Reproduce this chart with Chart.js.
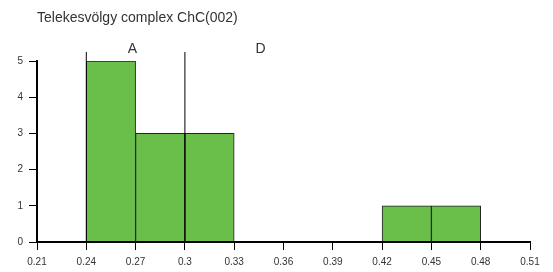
<!DOCTYPE html>
<html>
<head>
<meta charset="utf-8">
<script src="https://cdn.jsdelivr.net/npm/chart.js@4/dist/chart.umd.min.js"></script>
<style>
html,body{margin:0;padding:0;background:#fff;}
#wrap{position:relative;width:553px;height:272px;}
canvas{display:block;}
#title{position:absolute;left:37px;top:9px;font:14px 'Liberation Sans',Arial,sans-serif;color:#333;line-height:16px;white-space:nowrap;}
</style>
</head>
<body>
<div id="wrap">
<canvas id="c" width="553" height="272"></canvas>
<div id="title"></div>
</div>
<script>
const titleText = 'Telekesvölgy complex ChC(002)';
const binCenters = [0.255, 0.285, 0.315, 0.435, 0.465];
const counts = [5, 3, 3, 1, 1];
const xTicks = [0.21, 0.24, 0.27, 0.3, 0.33, 0.36, 0.39, 0.42, 0.45, 0.48, 0.51];
const yTicks = [0, 1, 2, 3, 4, 5];
const markerX = [0.24, 0.30];
const markerTop = 5.25;
const markerLabels = ['A', 'D'];
const markerLabelX = [0.268, 0.346];
const markerLabelY = 5.22;

const FONT = "'Liberation Sans', Arial, sans-serif";
document.getElementById('title').textContent = titleText;

const datasets = [{
  type: 'bar',
  data: binCenters.map((x, i) => ({x: x, y: counts[i]})),
  backgroundColor: '#6abf4b',
  borderColor: '#222',
  borderWidth: {top: 1, left: 1, right: 1, bottom: 0},
  borderSkipped: false,
  barPercentage: 1,
  categoryPercentage: 1,
  grouped: false,
  order: 2
}];
markerX.forEach(mx => {
  datasets.push({
    type: 'line',
    data: [{x: mx, y: 0}, {x: mx, y: markerTop}],
    borderColor: '#000',
    borderWidth: 1,
    pointRadius: 0,
    clip: false,
    order: 1
  });
});

const extras = {
  id: 'extras',
  afterDraw(chart) {
    const ctx = chart.ctx;
    const xs = chart.scales.x, ys = chart.scales.y;
    ctx.save();
    ctx.fillStyle = '#333';
    ctx.font = '14px ' + FONT;
    ctx.textAlign = 'center';
    ctx.textBaseline = 'alphabetic';
    markerLabels.forEach((t, i) => {
      ctx.fillText(t, xs.getPixelForValue(markerLabelX[i]), ys.getPixelForValue(markerLabelY));
    });
    ctx.restore();
  }
};

new Chart(document.getElementById('c'), {
  type: 'bar',
  data: {datasets: datasets},
  options: {
    responsive: false,
    animation: false,
    layout: {padding: {top: 61, right: 23, left: 0, bottom: 0}},
    plugins: {legend: {display: false}, tooltip: {enabled: false}, title: {display: false}},
    scales: {
      x: {
        type: 'linear',
        offset: false,
        min: 0.21, max: 0.51,
        afterBuildTicks: s => { s.ticks = xTicks.map(v => ({value: v})); },
        afterFit: s => { s.height = 30; },
        ticks: {
          color: '#333', font: {size: 10, family: FONT}, padding: 6, maxRotation: 0,
          autoSkip: false,
          callback: v => String(Math.round(v * 100) / 100)
        },
        grid: {offset: false, drawOnChartArea: false, drawTicks: true, tickLength: 8, color: '#000', lineWidth: 1},
        border: {display: true, color: '#000', width: 2, z: 1}
      },
      y: {
        type: 'linear',
        min: 0, max: 5,
        afterBuildTicks: s => { s.ticks = yTicks.map(v => ({value: v})); },
        afterFit: s => { s.width = 37; },
        ticks: {color: '#333', font: {size: 10, family: FONT}, padding: 6},
        grid: {drawOnChartArea: false, drawTicks: true, tickLength: 8, color: '#000', lineWidth: 1},
        border: {display: true, color: '#000', width: 2, z: 1}
      }
    }
  },
  plugins: [extras]
});
</script>
</body>
</html>
